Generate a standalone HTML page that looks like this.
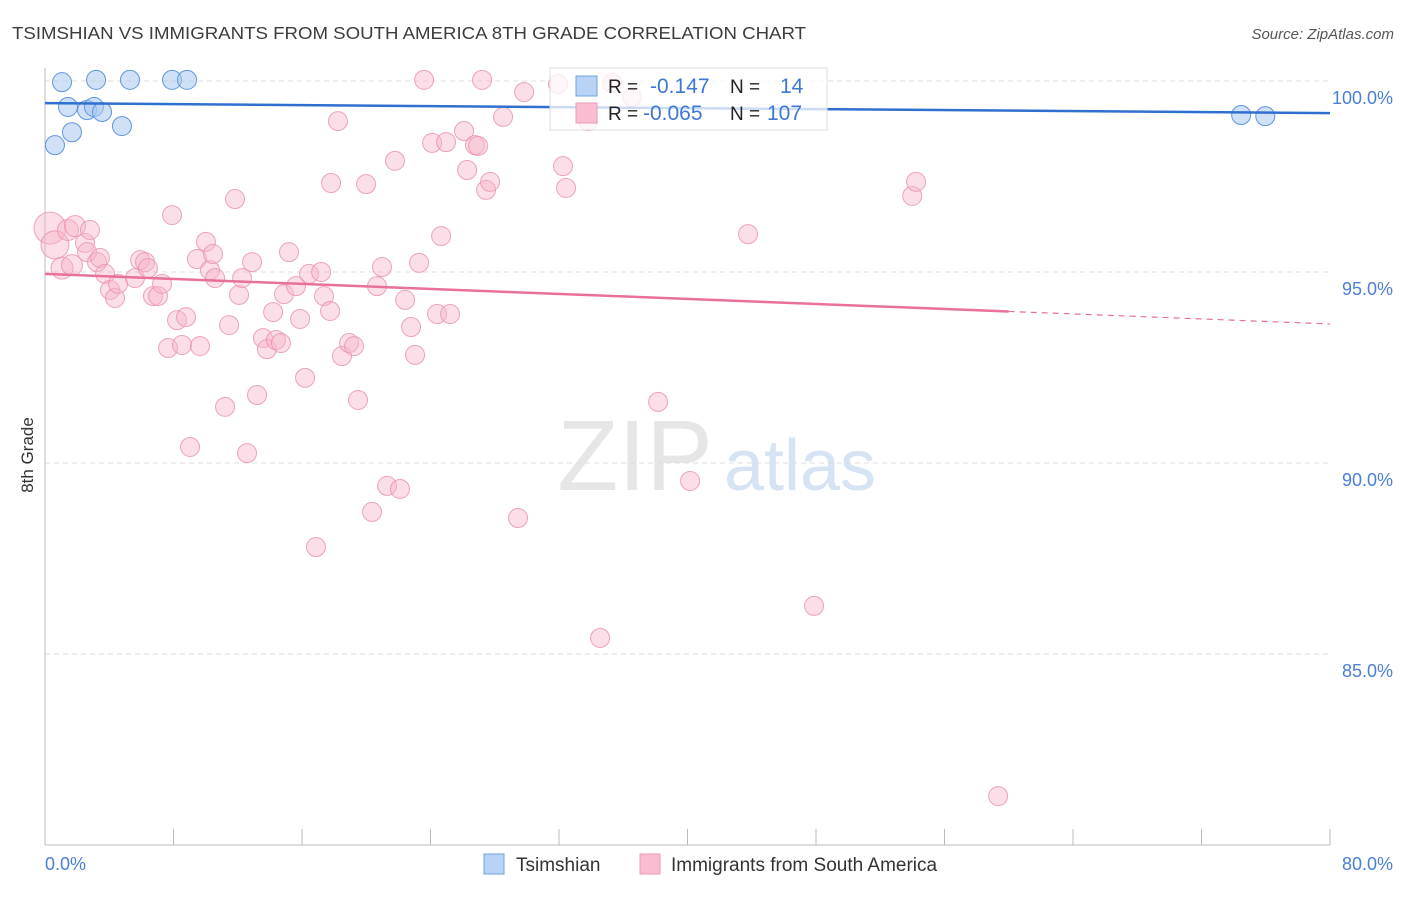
<!DOCTYPE html>
<html><head><meta charset="utf-8"><style>
body{margin:0;background:#fff;font-family:"Liberation Sans",sans-serif}
svg text{font-family:"Liberation Sans",sans-serif}
</style></head><body>
<svg id="chart" width="1406" height="892" xmlns="http://www.w3.org/2000/svg">
<text x="12" y="39" font-size="17.5" fill="#3c3c3c" textLength="794" lengthAdjust="spacingAndGlyphs">TSIMSHIAN VS IMMIGRANTS FROM SOUTH AMERICA 8TH GRADE CORRELATION CHART</text>
<text x="1394" y="39" font-size="15" fill="#555" text-anchor="end" font-style="italic">Source: ZipAtlas.com</text>
<text x="33" y="455" font-size="17" fill="#333" text-anchor="middle" transform="rotate(-90 33 455)">8th Grade</text>
<g><text x="635" y="490" font-size="100" fill="#e6e6e6" font-family="Liberation Serif" text-anchor="middle">ZIP</text><text x="800" y="490" font-size="72" fill="#d6e3f3" text-anchor="middle">atlas</text></g>
<g id="grid"></g><g id="axes"></g><g id="pts"></g><g id="trend"></g>
<g>
<rect x="550" y="68" width="277" height="62" fill="#fff" fill-opacity="0.75" stroke="#ddd"/>
<rect x="576" y="76" width="21" height="20" fill="#b8d3f5" stroke="#6fa0e0"/>
<rect x="576" y="103" width="21" height="20" fill="#f8bdd0" stroke="#ee9ab5"/>
<text x="608" y="93" font-size="19" fill="#222">R =</text><text x="650" y="93" font-size="21" fill="#3d78d4">-0.147</text>
<text x="730" y="93" font-size="19" fill="#222">N =</text><text x="780" y="93" font-size="21" fill="#3d78d4">14</text>
<text x="608" y="120" font-size="19" fill="#222">R =</text><text x="643" y="120" font-size="21" fill="#3d78d4">-0.065</text>
<text x="730" y="120" font-size="19" fill="#222">N =</text><text x="767" y="120" font-size="21" fill="#3d78d4">107</text>
</g>
<g>
<rect x="484" y="854" width="20" height="20" fill="#b8d3f5" stroke="#6fa0e0"/>
<text x="516" y="871" font-size="19" fill="#333">Tsimshian</text>
<rect x="640" y="854" width="20" height="20" fill="#f8bdd0" stroke="#ee9ab5"/>
<text x="671" y="871" font-size="19" fill="#333">Immigrants from South America</text>
</g>
</svg>
<script>
const yTicks=[100,95,90,85];
const yTickLabels=["100.0%","95.0%","90.0%","85.0%"];
const xTickLabels=["0.0%","80.0%"];
const blueX=[1.06,3.18,5.29,7.91,8.84,1.43,2.62,3.05,3.55,1.68,0.62,4.79,74.47,75.97];
const blueY=[99.97,100.03,100.03,100.03,100.03,99.32,99.24,99.32,99.19,98.66,98.32,98.82,99.11,99.08];
const pinkX=[0.31,0.62,1.06,1.43,1.87,1.68,2.49,2.80,2.62,3.24,3.42,3.74,4.05,4.36,4.55,5.60,5.92,6.23,6.41,6.72,7.04,7.29,7.91,7.66,8.22,8.53,8.78,9.03,9.46,9.65,10.02,10.27,10.46,10.59,11.21,11.46,11.83,12.08,12.27,12.58,12.89,13.20,13.57,13.82,14.20,14.38,14.69,14.88,15.19,15.63,15.88,16.19,16.44,16.87,17.19,17.37,17.75,17.81,18.24,18.49,18.93,19.24,19.49,19.99,20.36,20.67,20.98,21.30,21.79,22.10,22.42,22.79,23.04,23.29,23.60,24.10,24.41,24.66,24.97,25.22,26.09,26.28,26.77,26.96,27.21,27.46,27.71,28.52,29.45,29.83,31.94,32.25,32.44,33.81,34.56,35.31,36.55,38.17,40.16,43.77,47.88,53.99,54.23,59.34];
const pinkY=[96.15,95.71,95.10,96.10,96.20,95.18,95.76,96.10,95.52,95.26,95.37,94.95,94.53,94.32,94.69,94.84,95.31,95.26,95.10,94.37,94.37,94.69,96.49,93.01,93.74,93.09,93.82,90.42,95.34,93.06,95.79,95.05,95.47,94.84,91.47,93.61,96.91,94.40,94.84,90.26,95.26,91.78,93.27,92.98,93.95,93.22,93.14,94.42,95.52,94.63,93.77,92.23,94.95,87.80,95.00,94.37,93.98,97.33,98.95,92.80,93.14,93.06,91.65,97.30,88.72,94.63,95.13,89.40,97.91,89.32,94.27,93.56,92.83,95.24,100.03,98.38,93.90,95.94,98.40,93.90,98.69,97.67,98.32,98.30,100.03,97.15,97.36,99.06,88.56,99.71,99.92,97.77,97.20,98.95,85.42,99.95,99.58,91.60,89.53,95.99,86.26,96.99,97.36,81.28];
const pinkBig=[16,14,11,10.5,10.5,10.5];
const blueTrend=[99.42,99.16];
const pinkTrend=[94.95,93.64];
const pinkSolidEnd=60;
const NS="http://www.w3.org/2000/svg";
const X0=45,X1=1330,Y100=81,PXPER=38.2;
function sx(v){return X0+(X1-X0)*v/80;}
function sy(v){return Y100+(100-v)*PXPER;}
function mk(tag,attrs,parent){const e=document.createElementNS(NS,tag);for(const k in attrs)e.setAttribute(k,attrs[k]);document.getElementById(parent).appendChild(e);return e;}
yTicks.forEach((t,i)=>{
 const l=mk('line',{x1:X0,x2:X1,y1:sy(t),y2:sy(t),stroke:'#ddd','stroke-dasharray':'5,4'},'grid');
 
 
 const tx=mk('text',{x:1393,y:sy(t)+23,'font-size':18,fill:'#4a7fd4','text-anchor':'end'},'grid');
 tx.textContent=yTickLabels[i];
 
 
});
const ax=mk('line',{x1:X0,x2:X0,y1:68,y2:845,stroke:'#bbb'},'axes');


const bx=mk('line',{x1:X0,x2:X1,y1:845,y2:845,stroke:'#bbb'},'axes');


for(let i=0;i<=10;i++){const t=mk('line',{x1:sx(i*8),x2:sx(i*8),y1:829,y2:845,stroke:'#bbb'},'axes');
 
 }
[[0,'start',45],[80,'end',1393]].forEach((d,i)=>{const t=mk('text',{x:d[2],y:870,'font-size':18,fill:'#4a7fd4','text-anchor':d[1]},'axes');t.textContent=xTickLabels[i];
 
 });
pinkX.forEach((v,i)=>{const r=i<pinkBig.length?pinkBig[i]:9.5;
 const c=mk('circle',{cx:sx(v),cy:sy(pinkY[i]),r:r,fill:'#f6b6ca','fill-opacity':0.45,stroke:'#e890ad','stroke-opacity':0.8},'pts');
 
 });
blueX.forEach((v,i)=>{
 const c=mk('circle',{cx:sx(v),cy:sy(blueY[i]),r:9.5,fill:'#a9c8f0','fill-opacity':0.55,stroke:'#5f95de'},'pts');
 
 });
const bl=mk('line',{x1:sx(0),x2:sx(80),y1:sy(blueTrend[0]),y2:sy(blueTrend[1]),stroke:'#2f6fd0','stroke-width':2.5},'trend');


const pm=pinkTrend[0]+(pinkTrend[1]-pinkTrend[0])*pinkSolidEnd/80;
const pl=mk('line',{x1:sx(0),x2:sx(pinkSolidEnd),y1:sy(pinkTrend[0]),y2:sy(pm),stroke:'#e8709a','stroke-width':2.5},'trend');


const pd=mk('line',{x1:sx(pinkSolidEnd),x2:sx(80),y1:sy(pm),y2:sy(pinkTrend[1]),stroke:'#e8709a','stroke-width':1.2,'stroke-dasharray':'6,5'},'trend');


</script>
</body></html>
